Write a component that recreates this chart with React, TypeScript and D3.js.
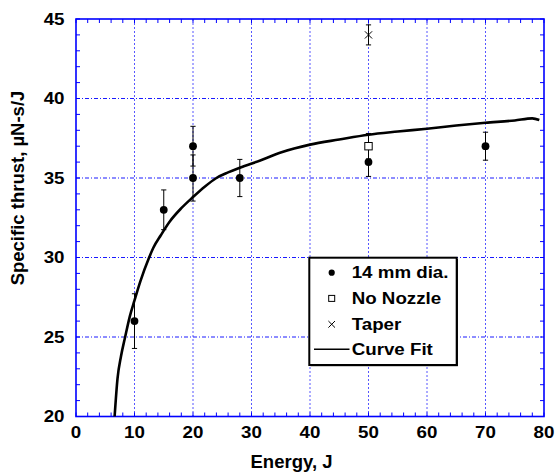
import React, { useEffect } from "react";
import * as d3 from "d3";

const xTicks = [0, 10, 20, 30, 40, 50, 60, 70, 80];
const yTicks = [20, 25, 30, 35, 40, 45];

const diaEnergy = [10, 15, 20, 20, 28, 50, 70];
const diaThrust = [26, 33, 37, 35, 35, 36, 37];
const diaErr = [1.72, 1.25, 1.25, 1.45, 1.17, 0.9, 0.88];

const noNozzleEnergy = [50];
const noNozzleThrust = [37];
const noNozzleErr = [0.8];

const taperEnergy = [50];
const taperThrust = [44];
const taperErr = [0.63];

const fitEnergy = [6.6, 7.1, 7.7, 8.4, 9.2, 10, 11, 12.5, 13.2, 14.5, 16, 18, 20, 22, 24, 26, 28, 31.5, 35, 40, 45, 50, 55, 60, 65, 70, 75, 78, 79.2];
const fitThrust = [20, 22.4, 23.8, 25, 26.3, 27.3, 28.5, 30, 30.6, 31.4, 32.25, 33.1, 33.8, 34.45, 35, 35.35, 35.65, 36.1, 36.6, 37.1, 37.42, 37.72, 37.92, 38.1, 38.3, 38.47, 38.62, 38.75, 38.65];

const legendLabels = ["14 mm dia.", "No Nozzle", "Taper", "Curve Fit"];

const W = 556;
const H = 472;
const L = 76, R = 544, T = 19, B = 416.5;
const FONT = "'Liberation Sans', Arial, Helvetica, sans-serif";

export default function App() {
  useEffect(() => {
    document.body.style.margin = "0";
  }, []);

  const x = d3.scaleLinear().domain([0, 80]).range([L, R]);
  const y = d3.scaleLinear().domain([20, 45]).range([B, T]);

  const xMinor = d3.range(0, 80.001, 2);
  const yMinor = d3.range(20, 45.001, 1);

  const fitPts: [number, number][] = fitEnergy.map((e, i) => [e, fitThrust[i]]);
  const line = d3
    .line<[number, number]>()
    .x((d) => x(d[0]))
    .y((d) => y(d[1]))
    .curve(d3.curveMonotoneX);

  const errBar = (ex: number, ey: number, err: number, key: string) => (
    <g key={key} stroke="#000" strokeWidth={1}>
      <line x1={x(ex)} x2={x(ex)} y1={y(ey - err)} y2={y(ey + err)} />
      <line x1={x(ex) - 2.6} x2={x(ex) + 2.6} y1={y(ey - err)} y2={y(ey - err)} />
      <line x1={x(ex) - 2.6} x2={x(ex) + 2.6} y1={y(ey + err)} y2={y(ey + err)} />
    </g>
  );

  const legX = 309.3, legY = 257.7, legW = 147.4, legH = 107.3;
  const rowBase = [278.3, 304, 330, 355.3];
  const markX = 331.7;
  const textX = 351.7;

  return (
    <svg width={W} height={H} style={{ display: "block", background: "#fff" }} fontFamily={FONT}>
      <rect x={0} y={0} width={W} height={H} fill="#fff" />
      {/* grid */}
      {xTicks.slice(1, -1).map((t) => (
        <line key={"gx" + t} x1={x(t)} x2={x(t)} y1={T} y2={B} stroke="#3a3aff" strokeWidth={1} strokeDasharray="2,2" opacity={0.85} />
      ))}
      {yTicks.slice(1, -1).map((t) => (
        <line key={"gy" + t} x1={L} x2={R} y1={y(t)} y2={y(t)} stroke="#1a1aff" strokeWidth={1} strokeDasharray="4,2,1,2" />
      ))}
      {/* minor ticks */}
      {xMinor.map((t) => (
        <g key={"mx" + t} stroke="#0000ff" strokeWidth={1}>
          <line x1={x(t)} x2={x(t)} y1={B} y2={B - 4} />
          <line x1={x(t)} x2={x(t)} y1={T} y2={T + 4} />
        </g>
      ))}
      {yMinor.map((t) => (
        <g key={"my" + t} stroke="#0000ff" strokeWidth={1}>
          <line x1={L} x2={L + 4} y1={y(t)} y2={y(t)} />
          <line x1={R} x2={R - 4} y1={y(t)} y2={y(t)} />
        </g>
      ))}
      {/* frame */}
      <rect x={L} y={T} width={R - L} height={B - T} fill="none" stroke="#0000ff" strokeWidth={1.6} />

      {/* tick labels */}
      {xTicks.map((t) => (
        <text key={"xl" + t} transform={`translate(${x(t)},438.3) scale(1.15,1)`} textAnchor="middle" fontSize={16.3} fontWeight="bold" fill="#000">
          {t}
        </text>
      ))}
      {yTicks.map((t) => (
        <text key={"yl" + t} transform={`translate(64.5,${y(t) + 5.8}) scale(1.15,1)`} textAnchor="end" fontSize={16.3} fontWeight="bold" fill="#000">
          {t}
        </text>
      ))}

      {/* axis titles */}
      <text x={291.5} y={467.7} textAnchor="middle" fontSize={18.5} fontWeight="bold" fill="#000">
        Energy, J
      </text>
      <text transform="translate(24,188) rotate(-90)" textAnchor="middle" fontSize={18.5} fontWeight="bold" fill="#000">
        Specific thrust, µN-s/J
      </text>

      {/* curve fit */}
      <path d={line(fitPts) || ""} fill="none" stroke="#000" strokeWidth={2.6} strokeLinejoin="round" />

      {/* error bars */}
      {diaEnergy.map((e, i) => errBar(e, diaThrust[i], diaErr[i], "ed" + i))}
      {noNozzleEnergy.map((e, i) => errBar(e, noNozzleThrust[i], noNozzleErr[i], "en" + i))}
      {taperEnergy.map((e, i) => errBar(e, taperThrust[i], taperErr[i], "et" + i))}

      {/* markers */}
      {diaEnergy.map((e, i) => (
        <circle key={"pd" + i} cx={x(e)} cy={y(diaThrust[i])} r={3.9} fill="#000" />
      ))}
      {noNozzleEnergy.map((e, i) => (
        <rect key={"pn" + i} x={x(e) - 3.7} y={y(noNozzleThrust[i]) - 3.7} width={7.4} height={7.4} fill="#fff" stroke="#000" strokeWidth={1} />
      ))}
      {taperEnergy.map((e, i) => (
        <g key={"pt" + i} stroke="#000" strokeWidth={1}>
          <line x1={x(e) - 3.6} x2={x(e) + 3.6} y1={y(taperThrust[i]) - 3.6} y2={y(taperThrust[i]) + 3.6} />
          <line x1={x(e) - 3.6} x2={x(e) + 3.6} y1={y(taperThrust[i]) + 3.6} y2={y(taperThrust[i]) - 3.6} />
        </g>
      ))}

      {/* legend */}
      <rect x={legX + 1.2} y={legY + 1.2} width={legW} height={legH} fill="#000" />
      <rect x={legX} y={legY} width={legW} height={legH} fill="#fff" stroke="#000" strokeWidth={2} />
      <circle cx={markX} cy={rowBase[0] - 5.6} r={3.1} fill="#000" />
      <rect x={markX - 3} y={rowBase[1] - 8.6} width={6} height={6} fill="#fff" stroke="#000" strokeWidth={1} />
      <g stroke="#000" strokeWidth={1}>
        <line x1={markX - 3.3} x2={markX + 3.3} y1={rowBase[2] - 9} y2={rowBase[2] - 2.4} />
        <line x1={markX - 3.3} x2={markX + 3.3} y1={rowBase[2] - 2.4} y2={rowBase[2] - 9} />
      </g>
      <line x1={314} x2={349.5} y1={rowBase[3] - 6} y2={rowBase[3] - 6} stroke="#000" strokeWidth={1.5} />
      {legendLabels.map((lab, i) => (
        <text key={"lg" + i} transform={`translate(${textX},${rowBase[i]}) scale(1.15,1)`} fontSize={16.3} fontWeight="bold" fill="#000">
          {lab}
        </text>
      ))}
    </svg>
  );
}
